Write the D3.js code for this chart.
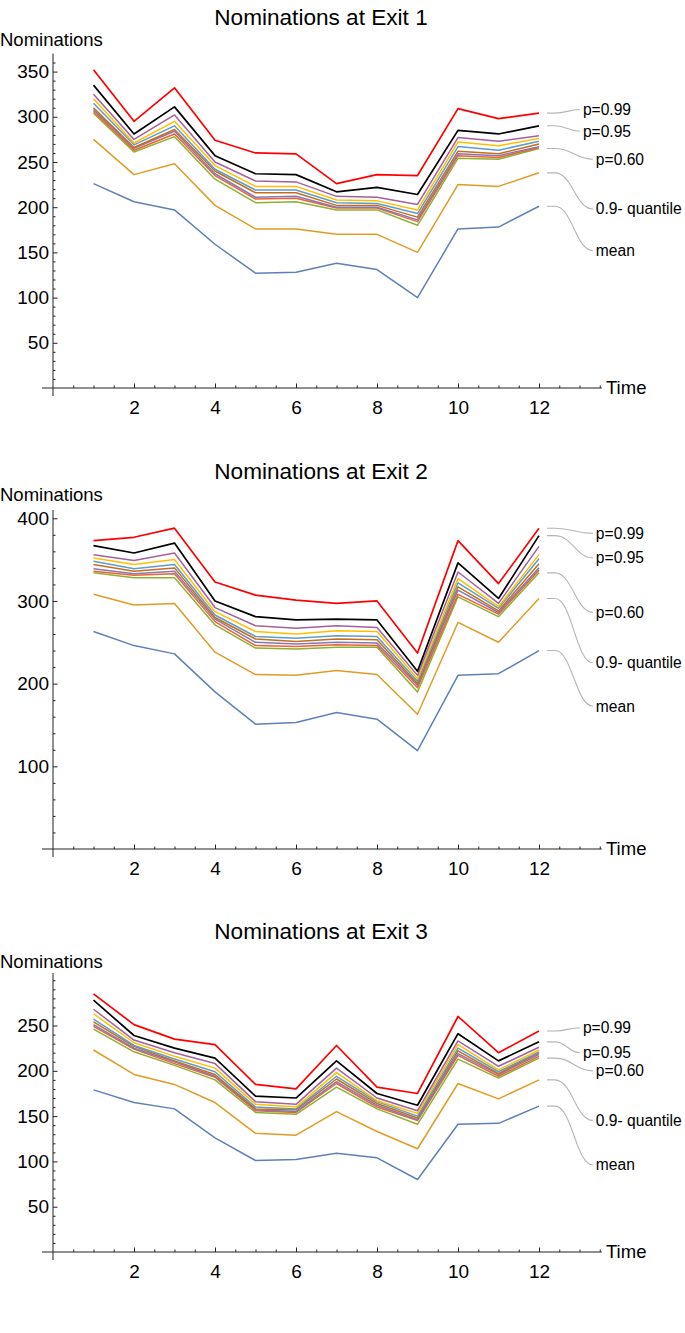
<!DOCTYPE html>
<html><head><meta charset="utf-8">
<script src="https://cdn.jsdelivr.net/npm/d3@7/dist/d3.min.js"></script>
<style>
body{margin:0;background:#fff}
svg{display:block}
text{font-family:"Liberation Sans",Arial,Helvetica,sans-serif;fill:#000}
</style>
</head><body>
<svg id="chart" width="685" height="1333"></svg>
<script>
// ---------- data ----------
const time = [1,2,3,4,5,6,7,8,9,10,11,12];
const seriesNames = ["mean","0.9- quantile","p=0.60","p=0.65","p=0.70","p=0.75","p=0.80","p=0.85","p=0.90","p=0.95","p=0.99"];
const seriesColors = ["#5E81B5","#E19C24","#8FB032","#EB6235","#8778B3","#C56E1A","#5D9EC7","#FFBF00","#A5609D","#000000","#FF0000"];
const xTickValues = [2,4,6,8,10,12];

// Exit 1
const exit1Mean = [226,206,197,159,127,128,138,131,100,176,178,201];
const exit1Q90  = [275,236,248,202,176,176,170,170,150,225,223,238];
const exit1P60  = [304,261,278,231,205,206,197,197,180,254,253,265];
const exit1P65  = [306,263,281,235,209,210,199,199,184,257,255,266];
const exit1P70  = [308,265,284,237,211,212,200,200,186,259,257,267];
const exit1P75  = [310,266,286,240,216,216,202,202,189,262,259,270];
const exit1P80  = [315,269,290,242,219,219,205,204,193,267,263,273];
const exit1P85  = [320,271,295,246,223,223,208,207,197,272,268,276];
const exit1P90  = [325,275,302,250,229,228,212,211,203,277,273,279];
const exit1P95  = [335,281,311,257,237,236,217,222,214,285,281,290];
const exit1P99  = [352,295,332,274,260,259,226,236,235,309,298,304];
const exit1YTicks = [50,100,150,200,250,300,350];

// Exit 2
const exit2Mean = [263,246,236,190,151,153,165,157,119,210,212,240];
const exit2Q90  = [308,295,297,238,211,210,216,211,163,274,250,303];
const exit2P60  = [334,328,328,271,243,242,244,244,190,305,281,334];
const exit2P65  = [336,331,333,275,246,245,247,246,195,308,284,337];
const exit2P70  = [339,333,336,278,250,248,250,249,198,313,286,340];
const exit2P75  = [344,336,340,280,254,251,254,253,200,317,288,345];
const exit2P80  = [348,339,344,283,257,255,258,257,203,322,291,351];
const exit2P85  = [352,344,350,287,263,260,264,263,206,327,293,356];
const exit2P90  = [356,349,358,292,270,267,270,268,210,335,297,366];
const exit2P95  = [367,358,370,300,281,277,278,277,215,346,303,379];
const exit2P99  = [373,377,388,323,307,301,297,300,237,373,321,388];
const exit2YTicks = [100,200,300,400];

// Exit 3
const exit3Mean = [179,165,158,126,101,102,109,104,80,141,142,161];
const exit3Q90  = [223,196,185,165,131,129,155,133,114,186,169,190];
const exit3P60  = [246,221,206,190,154,152,182,158,141,213,192,214];
const exit3P65  = [249,224,208,193,156,154,186,160,145,217,194,216];
const exit3P70  = [251,225,210,194,157,155,188,162,146,219,196,218];
const exit3P75  = [254,227,211,196,158,157,191,164,148,222,197,220];
const exit3P80  = [257,228,213,199,160,158,194,166,150,225,199,221];
const exit3P85  = [263,231,216,203,163,160,198,167,153,229,201,223];
const exit3P90  = [268,234,220,208,166,163,203,170,156,233,205,226];
const exit3P95  = [278,239,225,214,172,170,211,175,162,241,211,232];
const exit3P99  = [285,251,235,229,185,180,228,182,175,260,220,244];
const exit3YTicks = [50,100,150,200,250];

// callout labels: text, series index they point at
const calloutTexts  = ["p=0.99","p=0.95","p=0.60","0.9- quantile","mean"];
const calloutSeries = [10,9,2,1,0];
const exit1CalloutY = [308,284,253,198,152];
const exit2CalloutY = [381.7,352.2,286.2,225.3,172.9];
const exit3CalloutY = [247.5,220,200,145.3,96.1];
const exit1CalloutX = [13.01,13.01,13.33,13.33,13.33];
const exit2CalloutX = [13.33,13.33,13.33,13.33,13.33];
const exit3CalloutX = [13.01,13.01,13.33,13.33,13.33];

// ---------- layout ----------
const panels = [
  {title:"Nominations at Exit 1", top:53.5, zero:388, yMax:370, minorStep:10, titleY:17, labelY:40,
   series:[exit1Mean,exit1Q90,exit1P60,exit1P65,exit1P70,exit1P75,exit1P80,exit1P85,exit1P90,exit1P95,exit1P99],
   yTicks:exit1YTicks, cY:exit1CalloutY, cX:exit1CalloutX},
  {title:"Nominations at Exit 2", top:510, zero:849, yMax:410, minorStep:20, titleY:471, labelY:495,
   series:[exit2Mean,exit2Q90,exit2P60,exit2P65,exit2P70,exit2P75,exit2P80,exit2P85,exit2P90,exit2P95,exit2P99],
   yTicks:exit2YTicks, cY:exit2CalloutY, cX:exit2CalloutX},
  {title:"Nominations at Exit 3", top:973, zero:1252, yMax:308, minorStep:10, titleY:931, labelY:962,
   series:[exit3Mean,exit3Q90,exit3P60,exit3P65,exit3P70,exit3P75,exit3P80,exit3P85,exit3P90,exit3P95,exit3P99],
   yTicks:exit3YTicks, cY:exit3CalloutY, cX:exit3CalloutX}
];

const svg = d3.select("#chart");
const x = d3.scaleLinear().domain([0,13.5]).range([53,599.75]);
const axisColor = "#222";

panels.forEach(p => {
  const g = svg.append("g");
  const y = d3.scaleLinear().domain([0,p.yMax]).range([p.zero,p.top]);

  // axis lines
  g.append("line").attr("x1",x(-0.27)).attr("x2",x(13.55)).attr("y1",y(0)).attr("y2",y(0))
    .attr("stroke",axisColor).attr("stroke-width",1);
  g.append("line").attr("x1",x(0)).attr("x2",x(0)).attr("y1",y(0)+8).attr("y2",y(p.yMax))
    .attr("stroke",axisColor).attr("stroke-width",1);

  // x minor ticks
  const xMinor = d3.range(0.5,13.51,0.5).filter(v => !xTickValues.includes(v));
  const gxMinor = g.append("g").attr("transform",`translate(0,${y(0)})`)
    .call(d3.axisBottom(x).tickValues(xMinor).tickSize(-2.5).tickFormat(""));
  gxMinor.select(".domain").remove();
  gxMinor.selectAll("line").attr("stroke",axisColor);
  // x major ticks
  const gx = g.append("g").attr("transform",`translate(0,${y(0)})`)
    .call(d3.axisBottom(x).tickValues(xTickValues).tickSize(-4.5).tickPadding(13).tickFormat(d3.format("d")));
  gx.select(".domain").remove();
  gx.selectAll("line").attr("stroke",axisColor);
  gx.selectAll("text").attr("font-size",19).attr("font-family","Liberation Sans, Arial, sans-serif").attr("fill","#000");

  // y minor ticks
  const yMinor = d3.range(p.minorStep, p.yMax, p.minorStep).filter(v => !p.yTicks.includes(v));
  const gyMinor = g.append("g").attr("transform",`translate(${x(0)},0)`)
    .call(d3.axisLeft(y).tickValues(yMinor).tickSize(-2.5).tickFormat(""));
  gyMinor.select(".domain").remove();
  gyMinor.selectAll("line").attr("stroke",axisColor);
  // y major
  const gy = g.append("g").attr("transform",`translate(${x(0)},0)`)
    .call(d3.axisLeft(y).tickValues(p.yTicks).tickSize(-4.5).tickPadding(4).tickFormat(d3.format("d")));
  gy.select(".domain").remove();
  gy.selectAll("line").attr("stroke",axisColor);
  gy.selectAll("text").attr("font-size",19).attr("font-family","Liberation Sans, Arial, sans-serif").attr("fill","#000");

  // axis labels & title
  g.append("text").attr("x",0).attr("y",p.labelY).attr("dy","0.35em")
    .attr("font-size",18.5).text("Nominations");
  g.append("text").attr("x",606).attr("y",y(0)).attr("dy","0.35em")
    .attr("font-size",18.5).text("Time");
  g.append("text").attr("x",321).attr("y",p.titleY).attr("dy","0.35em")
    .attr("text-anchor","middle").attr("font-size",22.6).text(p.title);

  // lines
  const line = d3.line().x((d,i)=>x(time[i])).y(d=>y(d));
  p.series.forEach((s,i) => {
    g.append("path").datum(s).attr("d",line).attr("fill","none")
      .attr("stroke",seriesColors[i]).attr("stroke-width",(i>=9)?1.7:1.5)
      .attr("stroke-linejoin","round");
  });

  // callouts
  calloutTexts.forEach((t,k) => {
    const s = p.series[calloutSeries[k]];
    const sx = x(12)+8, sy = y(s[s.length-1]);
    const bx = sx+8;
    const ex = x(p.cX[k]), ey = y(p.cY[k]);
    const dx = ex-bx;
    const path = d3.path();
    path.moveTo(sx,sy);
    path.lineTo(bx,sy);
    path.bezierCurveTo(bx+0.45*dx,sy, ex-0.45*dx,ey, ex,ey);
    g.append("path").attr("d",path.toString()).attr("fill","none")
      .attr("stroke","#b5b5b5").attr("stroke-width",1.1);
    g.append("text").attr("x",ex+3).attr("y",ey).attr("dy","0.35em")
      .attr("font-size",15.6).text(t);
  });
});
</script>
</body></html>
